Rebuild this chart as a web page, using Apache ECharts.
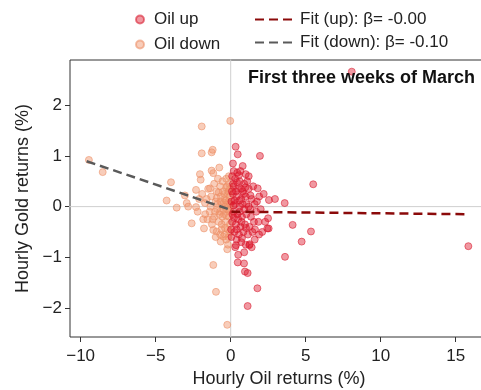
<!DOCTYPE html>
<html>
<head>
<meta charset="utf-8">
<script src="https://cdn.jsdelivr.net/npm/echarts@6/dist/echarts.min.js"></script>
<style>
  html, body { margin: 0; padding: 0; background: #fff; }
  #chart { width: 481px; height: 390px; }
</style>
</head>
<body>
<div id="chart"></div>
<script>
// x = hourly oil return (%), y = hourly gold return (%)
const oilUp = [
  [0.33, 1.18], [0.47, 1.03], [1.95, 1.0], [0.44, 0.67], [1.0, 0.64], [1.8, 0.36], [5.5, 0.44],
  [2.55, 0.13], [2.95, 0.15], [3.6, 0.07], [4.13, -0.36], [5.35, -0.49], [4.73, -0.69], [3.62, -0.99],
  [2.44, -0.43], [0.35, -0.76], [0.47, -1.1], [0.89, -1.12], [0.95, -1.28], [1.13, -1.31], [1.78, -1.61],
  [1.13, -1.96], [1.24, -0.76], [1.89, -0.55], [15.84, -0.78], [8.07, 2.66], [2.49, -0.23], [2.53, -0.43],
  [0.75, -0.62], [1.27, -0.74],
  [0.1, 0.6], [0.3, 0.55], [0.6, 0.5], [0.9, 0.45], [0.2, 0.4], [0.5, 0.35], [0.8, 0.3], [1.2, 0.35],
  [0.15, 0.25], [0.4, 0.2], [0.7, 0.15], [1.0, 0.2], [1.4, 0.15], [0.05, 0.1], [0.3, 0.05], [0.6, 0.0],
  [0.9, -0.05], [1.2, 0.0], [1.6, 0.05], [0.2, -0.1], [0.45, -0.15], [0.75, -0.2], [1.05, -0.15],
  [1.35, -0.2], [1.7, -0.1], [0.1, -0.3], [0.35, -0.35], [0.65, -0.4], [0.95, -0.35], [1.25, -0.4],
  [1.55, -0.3], [0.25, -0.5], [0.55, -0.55], [0.85, -0.5], [1.15, -0.55], [1.45, -0.5], [0.05, -0.6],
  [0.4, -0.65], [0.7, -0.7], [1.0, -0.75], [1.6, -0.65], [0.15, 0.45], [0.55, 0.62], [0.35, 0.3],
  [0.8, 0.05], [1.1, 0.5], [1.5, 0.4], [1.9, 0.2], [2.0, -0.05], [1.85, -0.3], [2.1, -0.5], [0.25, 0.12],
  [0.5, -0.25], [0.7, 0.35], [1.3, -0.05], [0.12, -0.15], [0.88, 0.25], [0.4, -0.45], [1.2, 0.6],
  [0.65, 0.7], [0.2, 0.7], [1.75, 0.1], [0.03, -0.45], [0.6, -0.1], [1.05, 0.05], [0.3, -0.8],
  [1.4, -0.8], [0.9, -0.9], [0.5, -0.95], [2.2, 0.25], [2.3, -0.3], [0.15, 0.85], [0.8, 0.8],
  [0.08, 0.3], [0.22, -0.22], [0.58, 0.12], [1.02, -0.42], [1.32, 0.22], [0.42, 0.48], [0.72, -0.3],
  [1.62, -0.45], [0.18, 0.02], [0.98, 0.38]
];
const oilDown = [
  [-9.45, 0.92], [-8.53, 0.68], [-3.98, 0.48], [-4.27, 0.12], [-3.6, -0.02], [-2.93, 0.07], [-2.6, -0.33],
  [-1.93, 1.58], [-0.03, 1.69], [-1.93, 1.05], [-1.27, 1.07], [-1.2, 1.12], [-0.76, 0.77], [-2.05, 0.64],
  [-2.0, 0.53], [-1.27, 0.71], [-1.16, 0.66], [-1.83, -0.25], [-1.78, -0.43], [-1.16, -0.46],
  [-0.93, -0.49], [-0.67, -0.69], [-0.23, -0.84], [-1.16, -1.15], [-0.98, -1.68], [-0.23, -2.33],
  [-2.31, 0.33], [-1.38, 0.36], [-3.05, 0.22], [-2.83, 0.0], [-2.31, -0.01], [-1.71, 0.07], [-0.93, 0.17],
  [-0.71, -0.1], [-0.49, -0.59],
  [-0.1, 0.45], [-0.3, 0.38], [-0.5, 0.3], [-0.2, 0.25], [-0.8, 0.28], [-0.4, 0.15], [-0.15, 0.1],
  [-0.6, 0.05], [-1.0, 0.1], [-1.3, 0.2], [-0.25, -0.05], [-0.45, -0.15], [-0.9, -0.05], [-1.1, -0.2],
  [-0.35, -0.3], [-0.1, -0.2], [-0.6, -0.35], [-0.2, -0.45], [-0.8, -0.3], [-1.4, -0.1], [-1.6, 0.15],
  [-0.05, 0.35], [-0.55, 0.5], [-0.3, 0.55], [-1.5, 0.35], [-1.1, 0.45], [-0.7, 0.4], [-0.15, -0.6],
  [-0.4, -0.55], [-0.05, -0.35], [-1.25, -0.35], [-1.55, -0.25], [-0.95, 0.3], [-0.2, 0.05],
  [-0.65, 0.2], [-0.1, -0.1], [-0.35, 0.0], [-0.75, -0.15], [-1.05, -0.1], [-0.5, -0.05], [-0.08, 0.2],
  [-0.28, -0.18], [-0.42, 0.25], [-0.12, 0.6], [-0.85, 0.55], [-1.7, -0.15], [-2.1, 0.15], [-2.2, -0.1],
  [-1.9, 0.25], [-0.55, -0.2], [-0.18, -0.75], [-0.7, -0.55], [-1.0, -0.6], [-0.3, -0.65], [-0.05, -0.5],
  [-0.45, 0.08], [-0.62, -0.45], [-0.88, 0.05], [-1.35, 0.0], [-0.02, 0.05], [-0.22, 0.4],
  [-0.15, 0.3], [-0.38, -0.42], [-0.68, 0.1], [-1.2, -0.25], [-0.05, -0.05], [-0.32, 0.12]
];
// fitted regression lines: [x, y] endpoints
const fitUp = [[0.05, -0.10], [15.8, -0.15]];
const fitDown = [[-9.6, 0.895], [0, -0.065]];
const zeroH = [[-12, 0], [20, 0]];
const zeroV = [[0, -3], [0, 3]];
const xTicks = [-10, -5, 0, 5, 10, 15];
const yTicks = [-2, -1, 0, 1, 2];

const font = '"Liberation Sans", Arial, sans-serif';
const minus = v => String(v).replace('-', '\u2212');
const hidden = { color: 'rgba(0,0,0,0)', borderColor: 'rgba(0,0,0,0)', borderWidth: 0 };

const chart = echarts.init(document.getElementById('chart'));
chart.setOption({
  animation: false,
  textStyle: { fontFamily: font },
  title: {
    text: 'First three weeks of March',
    right: 1, top: 64,
    textStyle: { fontSize: 18, fontWeight: 'bold', color: '#111', fontFamily: font }
  },
  legend: [
    {
      data: ['Oil up', 'Oil down'],
      orient: 'vertical', left: 130, top: 6,
      itemWidth: 18, itemHeight: 8, itemGap: 8,
      textStyle: { fontSize: 17, color: '#222', fontFamily: font }
    },
    {
      data: ['Fit (up): β= -0.00', 'Fit (down): β= -0.10'],
      orient: 'vertical', left: 249, top: 6,
      itemWidth: 40, itemHeight: 14, itemGap: 6,
      itemStyle: hidden,
      textStyle: { fontSize: 17, color: '#222', fontFamily: font }
    }
  ],
  grid: {
    left: 70, top: 60, right: -7, bottom: 53,
    outerBoundsMode: 'none',
    show: true, borderColor: '#333', borderWidth: 1
  },
  xAxis: {
    type: 'value', min: -10.71, max: 17.15,
    name: 'Hourly Oil returns (%)', nameLocation: 'middle', nameGap: 32,
    nameTextStyle: { fontSize: 18, color: '#222', fontFamily: font },
    axisLine: { show: false, onZero: false },
    axisTick: { show: true, length: 5, customValues: xTicks, lineStyle: { color: '#333' } },
    axisLabel: { customValues: xTicks, fontSize: 17, color: '#222', margin: 11, formatter: minus, fontFamily: font },
    splitLine: { show: false }
  },
  yAxis: {
    type: 'value', min: -2.57, max: 2.89,
    name: 'Hourly Gold returns (%)', nameLocation: 'middle', nameGap: 31,
    nameTextStyle: { fontSize: 18, color: '#222', fontFamily: font },
    axisLine: { show: false, onZero: false },
    axisTick: { show: true, length: 5, customValues: yTicks, lineStyle: { color: '#333' } },
    axisLabel: { customValues: yTicks, fontSize: 17, color: '#222', margin: 8, formatter: minus, fontFamily: font },
    splitLine: { show: false }
  },
  series: [
    {
      name: 'zeroH', type: 'line', data: zeroH, symbol: 'none', silent: true, z: 1,
      lineStyle: { color: '#cfcfcf', width: 1 }
    },
    {
      name: 'zeroV', type: 'line', data: zeroV, symbol: 'none', silent: true, z: 1,
      lineStyle: { color: '#cfcfcf', width: 1 }
    },
    {
      name: 'Oil down', type: 'scatter', data: oilDown, symbolSize: 7, z: 2,
      itemStyle: { color: 'rgba(240,150,110,0.6)', borderColor: 'rgba(235,140,100,0.7)', borderWidth: 1 }
    },
    {
      name: 'Oil up', type: 'scatter', data: oilUp, symbolSize: 7, z: 3,
      itemStyle: { color: 'rgba(220,20,40,0.55)', borderColor: 'rgba(215,25,45,0.7)', borderWidth: 1 }
    },
    {
      name: 'Fit (up): β= -0.00', type: 'line', data: fitUp, symbol: 'none', z: 4,
      itemStyle: { color: '#8b0a0a' },
      lineStyle: { color: '#8b0a0a', width: 2.5, type: [9, 5] }
    },
    {
      name: 'Fit (down): β= -0.10', type: 'line', data: fitDown, symbol: 'none', z: 4,
      itemStyle: { color: '#5a5a5a' },
      lineStyle: { color: '#5a5a5a', width: 2.5, type: [9, 5] }
    }
  ]
});
</script>
</body>
</html>
